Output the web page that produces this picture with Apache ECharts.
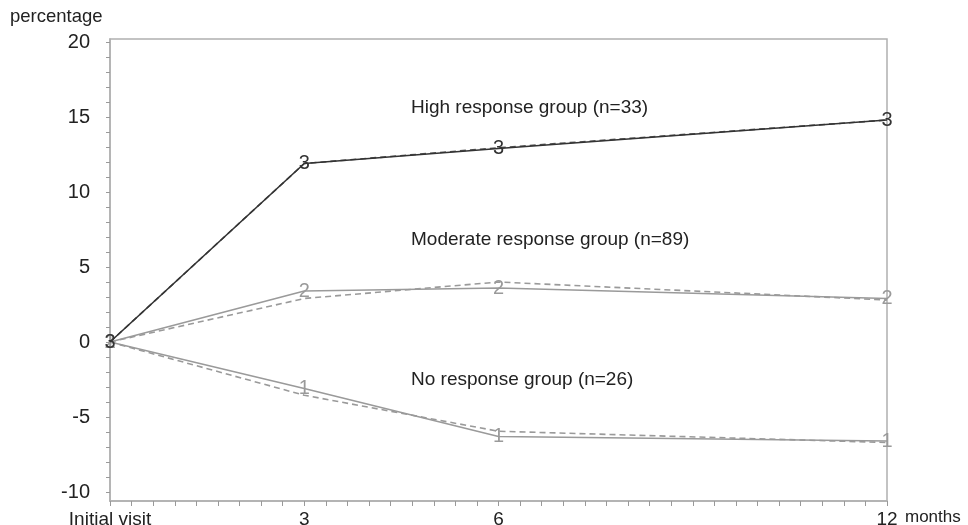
<!DOCTYPE html>
<html>
<head>
<meta charset="utf-8">
<script src="https://cdn.jsdelivr.net/npm/echarts@6/dist/echarts.min.js"></script>
<style>html,body{margin:0;padding:0;background:#fff}#c{width:968px;height:525px}</style>
</head>
<body>
<div id="c"></div>
<script>
// months after the initial visit
const months = [0, 3, 6, 12];
const xTickLabels = ['Initial visit', '3', '6', '12'];
const yTickLabels = [-10, -5, 0, 5, 10, 15, 20];

// percentage change per group (solid and dashed lines)
const highSolid = [0, 11.9, 12.9, 14.8];
const highDashed = [0, 11.9, 12.95, 14.8];
const modSolid = [0, 3.4, 3.6, 2.9];
const modDashed = [0, 2.9, 4.0, 2.8];
const noSolid = [0, -3.1, -6.3, -6.6];
const noDashed = [0, -3.55, -5.95, -6.7];

const groupNotes = ['High response group (n=33)', 'Moderate response group (n=89)', 'No response group (n=26)'];

const pair = arr => months.map((m, i) => [m, arr[i]]);

const xMinor = [];
for (let k = 0; k <= 36; k++) xMinor.push(k / 3);
const yMinor = [];
for (let v = -10; v <= 20; v++) yMinor.push(v);

const gray = '#9a9a9a';
const dark = '#333333';
const FONT = "'Liberation Sans', Arial, sans-serif";

function lineSeries(data, color, dashed, mark) {
  return {
    type: 'line',
    data: pair(data),
    symbol: mark ? 'circle' : 'none',
    symbolSize: 1,
    showSymbol: !!mark,
    itemStyle: { color: 'rgba(0,0,0,0)' },
    lineStyle: { color: color, width: 1.6, type: dashed ? [6, 4] : 'solid' },
    label: mark ? {
      show: true, position: 'inside', formatter: mark, color: color,
      fontFamily: FONT, fontSize: 20
    } : { show: false },
    labelLayout: { hideOverlap: false },
    z: mark === '3' ? 5 : 3,
    clip: false,
    silent: true
  };
}

const chart = echarts.init(document.getElementById('c'), null, { renderer: 'canvas' });
chart.setOption({
  animation: false,
  backgroundColor: '#fff',
  grid: { left: 110, right: 81, top: 39, bottom: 24, outerBoundsMode: 'none', containLabel: false, show: true, borderColor: '#b0b0b0', borderWidth: 1.5, backgroundColor: 'transparent' },
  xAxis: {
    type: 'value', min: 0, max: 12,
    name: 'months', nameLocation: 'end', nameGap: 18,
    nameTextStyle: { color: '#222', fontSize: 17, fontFamily: FONT, verticalAlign: 'top', padding: [8, 0, 0, 0] },
    axisLine: { show: true, onZero: false, lineStyle: { color: '#b0b0b0', width: 1.5 } },
    axisTick: { show: true, length: 5, customValues: xMinor, lineStyle: { color: '#999' } },
    axisLabel: {
      customValues: months,
      formatter: v => { const i = months.indexOf(v); return i >= 0 ? xTickLabels[i] : ''; },
      color: '#222', fontSize: 19, margin: 9, fontFamily: FONT
    },
    splitLine: { show: false }
  },
  yAxis: {
    type: 'value', min: -10.6, max: 20.2,
    axisLine: { show: true, onZero: false, lineStyle: { color: '#b0b0b0', width: 1.5 } },
    axisTick: { show: true, length: 4, customValues: yMinor, lineStyle: { color: '#999' } },
    axisLabel: {
      customValues: yTickLabels,
      color: '#222', fontSize: 20, margin: 20, fontFamily: FONT
    },
    splitLine: { show: false }
  },
  graphic: [
    { type: 'text', x: 10, y: 17, style: { text: 'percentage', fill: '#222', font: '18.5px ' + FONT, verticalAlign: 'middle' } },
    { type: 'text', x: 411, y: 108, style: { text: groupNotes[0], fill: '#222', font: '19px ' + FONT, verticalAlign: 'middle' } },
    { type: 'text', x: 411, y: 240, style: { text: groupNotes[1], fill: '#222', font: '19px ' + FONT, verticalAlign: 'middle' } },
    { type: 'text', x: 411, y: 380, style: { text: groupNotes[2], fill: '#222', font: '19px ' + FONT, verticalAlign: 'middle' } }
  ],
  series: [
    lineSeries(noDashed, gray, true, null),
    lineSeries(noSolid, gray, false, '1'),
    lineSeries(modDashed, gray, true, null),
    lineSeries(modSolid, gray, false, '2'),
    lineSeries(highDashed, '#555', true, null),
    lineSeries(highSolid, dark, false, '3')
  ]
});
</script>
</body>
</html>
